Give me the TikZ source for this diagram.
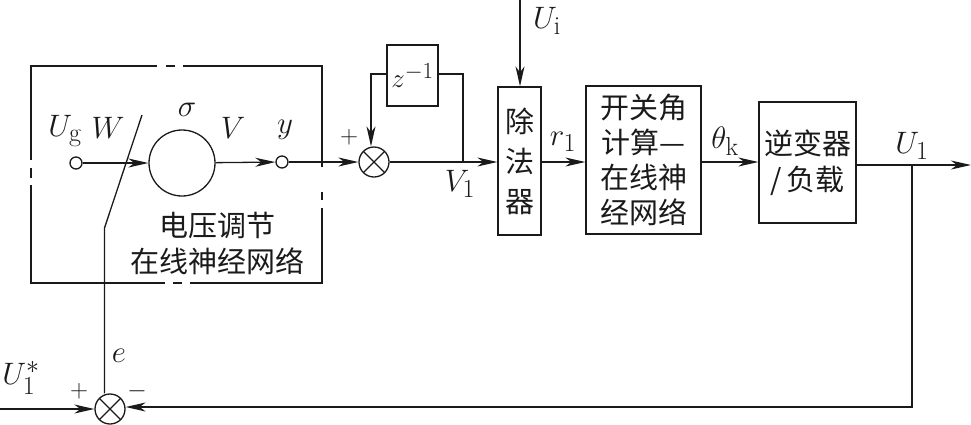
\documentclass[tikz,border=0pt]{standalone}
\usepackage{fix-cm}
\usepackage{amsmath,amssymb}
\usepackage{fontspec}
\usepackage{xcolor}
\usepackage{tikz}
\usetikzlibrary{calc,arrows.meta}
\newfontfamily\cjkfont{Noto Sans CJK SC}
\definecolor{ink}{HTML}{1A1A1A}
\DeclareMathSizes{31}{31}{26}{20}
\DeclareMathSizes{27}{27}{23}{18}
\DeclareMathSizes{25}{25}{20}{15}
\tikzset{
  base/.style={draw=ink, line width=1.3pt, line join=miter},
  conn/.style={base, -{Stealth[length=20pt,width=9pt,inset=6pt]}},
  block/.style={base, rectangle, inner sep=0pt},
  term/.style={base, circle, fill=white, inner sep=0pt, minimum size=12pt},
  sumnode/.style={base, circle, inner sep=0pt, minimum size=30pt,
    path picture={
      \draw[base] (path picture bounding box.north west) -- (path picture bounding box.south east);
      \draw[base] (path picture bounding box.north east) -- (path picture bounding box.south west);
    }},
  lab/.style={text=ink, inner sep=0pt, font=\fontsize{31}{34}\selectfont},
  labs/.style={text=ink, inner sep=0pt, font=\fontsize{25}{28}\selectfont},
  zh/.style={text=ink, inner sep=0pt, align=center, font=\cjkfont\fontsize{29}{36}\selectfont},
}
\begin{document}
\begin{tikzpicture}[x=1pt,y=-1pt]
  \useasboundingbox (0,0) rectangle (971,424);

  % network frame, broken at the middle of each side
  \draw[base] (157,66) -- (31,66) -- (31,160);
  \draw[base] (31,168) -- (31,178);
  \draw[base] (31,185) -- (31,283) -- (165,283);
  \draw[base] (173,283) -- (182,283);
  \draw[base] (190,283) -- (322,283) -- (322,208);
  \draw[base] (322,192) -- (322,200);
  \draw[base] (322,167) -- (322,66) -- (183,66);
  \draw[base] (166,66) -- (175,66);

  % nodes inside the frame
  \node[term] (ug) at (76,163) {};
  \node[base, circle, inner sep=0pt, minimum size=66pt] (neuron) at (182,163) {};
  \node[term] (yout) at (282,162) {};

  % forward blocks
  \node[sumnode] (sumv) at (374,162) {};
  \node[block, minimum width=51pt, minimum height=61pt] (delay) at (412.5,75.5) {};
  \node[lab, font=\fontsize{27}{30}\selectfont] at (delay.center) {$z^{-1}$};
  \node[block, minimum width=43pt, minimum height=148pt, zh, font=\cjkfont\fontsize{29}{40}\selectfont] (divider) at (519.5,161) {除\\法\\器};
  \node[block, minimum width=115pt, minimum height=148pt, zh, font=\cjkfont\fontsize{29}{35}\selectfont] (angle) at (643.5,160) {开关角\\计算—\\在线神\\经网络};
  \node[block, minimum width=97pt, minimum height=121pt, zh] (inverter) at (807.5,162.5) {逆变器\\/\,负载};
  \node[sumnode] (sume) at (110,409) {};

  \coordinate (ui) at (520,0);
  \coordinate (vtap) at (463,162);
  \coordinate (zout) at (463,74);
  \coordinate (zin) at (371,74);
  \coordinate (uout) at (971,165);
  \coordinate (utap) at (912,165);
  \coordinate (ubot) at (912,407);
  \coordinate (ustar) at (0,409);
  \coordinate (wknee) at (104.5,228);
  \coordinate (wtip) at (142,115);

  % signal path
  \draw[conn] (ug) -- (neuron);
  \draw[conn] (neuron) -- (yout);
  \draw[conn] (yout) -- (sumv);
  \draw[conn] (sumv) -- (divider.west |- sumv);
  \draw[conn] (ui) -- (divider.north -| ui);
  \draw[conn] (divider.east |- sumv) -- (angle.west |- sumv);
  \draw[conn] (angle.east |- sumv) -- (inverter.west |- sumv);
  \draw[conn] (inverter.east |- uout) -- (uout);

  % delay loop
  \draw[base] (vtap) -- (zout) -- (delay.east |- zout);
  \draw[conn] (delay.west |- zin) -- (zin) -- (sumv.north -| zin);

  % voltage feedback and weight adjustment
  \draw[conn] (utap) -- (ubot) -- (sume.east |- ubot);
  \draw[conn] (ustar) -- (sume);
  \draw[base] (sume.north -| wknee) -- (wknee) -- (wtip);

  % labels
  \node[lab] (lug) at (65,131) {$U_{\mathrm{g}}$};
  \node[lab] (lw) at (108,128) {$W$};
  \node[lab] (lsigma) at (187,110) {$\sigma$};
  \node[lab] (lv) at (233,128) {$V$};
  \node[lab] (ly) at (285,130) {$y$};
  \node[labs] (lplusv) at (349,137) {$+$};
  \node[lab] (lv1) at (460,184) {$V_{1}$};
  \node[lab] (lui) at (547,21) {$U_{\mathrm{i}}$};
  \node[lab] (lr1) at (563,142) {$r_{1}$};
  \node[lab] (ltheta) at (725,141) {$\theta_{\mathrm{k}}$};
  \node[lab] (lu1) at (912,146) {$U_{1}$};
  \node[lab] (lustar) at (21,378) {$U_{1}^{*}$};
  \node[lab] (le) at (119,356) {$e$};
  \node[labs] (lpluse) at (79,391) {$+$};
  \node[labs] (lminus) at (137,391) {$-$};
  \node[zh] (lnet) at (217.5,243.5) {电压调节\\在线神经网络};
\end{tikzpicture}
\end{document}
